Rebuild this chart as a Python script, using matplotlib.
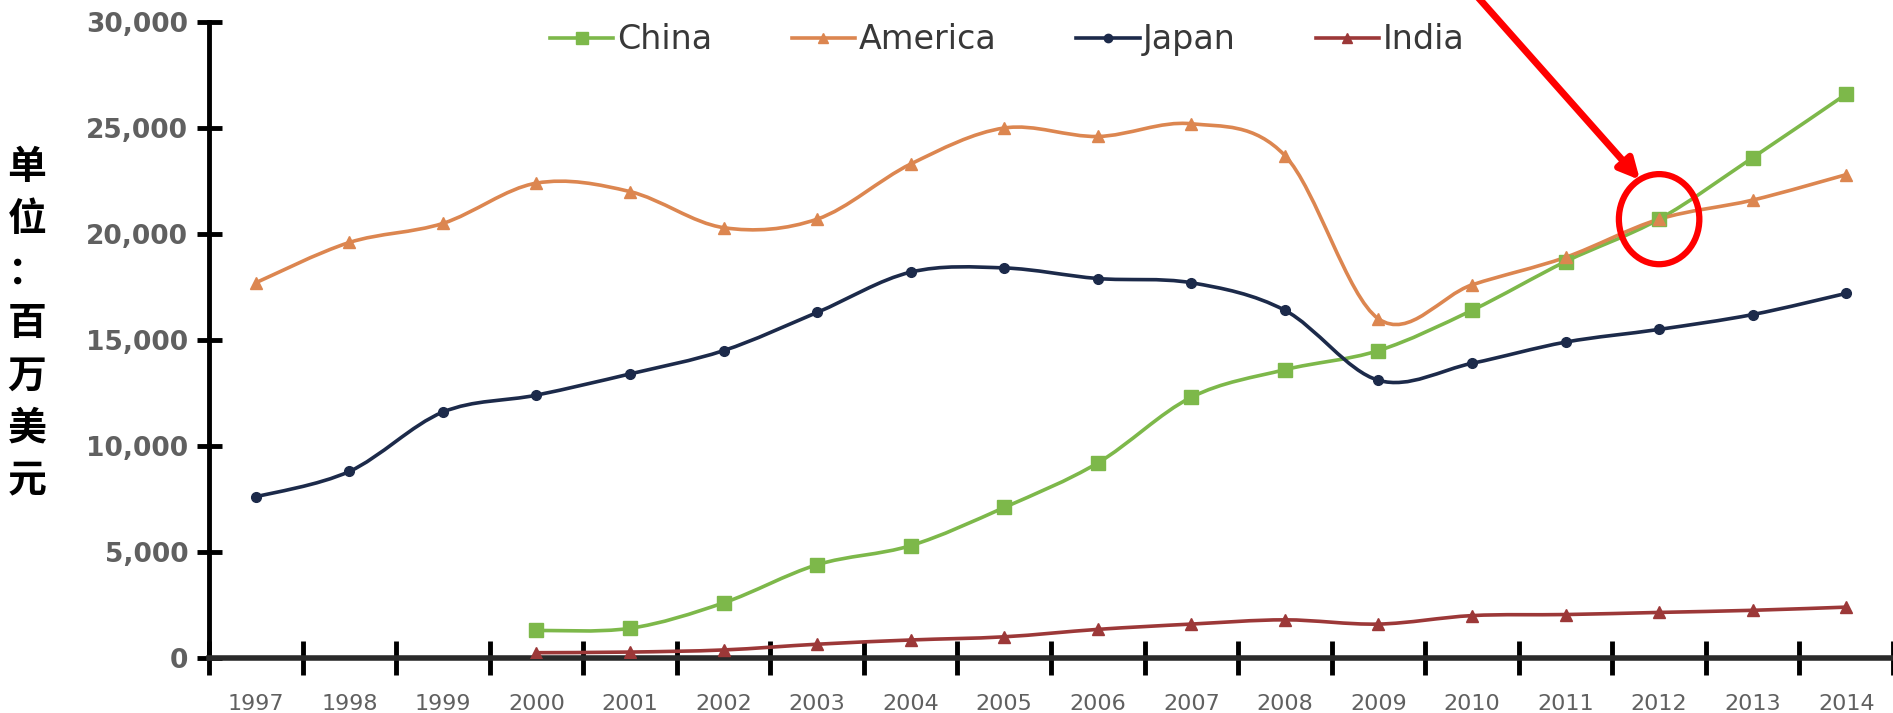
import matplotlib
matplotlib.use("Agg")
import numpy as np
import matplotlib.pyplot as plt
from matplotlib.path import Path
from matplotlib.patches import PathPatch, Ellipse
from matplotlib.lines import Line2D

# data (million USD)
years = [str(y) for y in range(1997, 2015)]
china_years = [str(y) for y in range(2000, 2015)]
china = [1300, 1400, 2600, 4400, 5300, 7100, 9200, 12300, 13600, 14500,
         16400, 18700, 20700, 23600, 26600]
america = [17700, 19600, 20500, 22400, 22000, 20300, 20700, 23300, 25000,
           24600, 25200, 23700, 16000, 17600, 18900, 20700, 21600, 22800]
japan = [7600, 8800, 11600, 12400, 13400, 14500, 16300, 18200, 18400,
         17900, 17700, 16400, 13100, 13900, 14900, 15500, 16200, 17200]
india_years = china_years
india = [250, 280, 380, 650, 850, 1000, 1350, 1600, 1800, 1600,
         2000, 2050, 2150, 2250, 2400]
ylabel_chars = ["单", "位", "：", "百", "万", "美", "元"]
yticks = [0, 5000, 10000, 15000, 20000, 25000, 30000]
highlight_year = "2012"


def smooth_path(x, y):
    # Catmull-Rom through the points, turned into cubic Bezier segments
    p = np.column_stack([x, y]).astype(float)
    n = len(p)
    verts = [p[0]]
    codes = [Path.MOVETO]
    for i in range(n - 1):
        p0 = p[i - 1] if i > 0 else p[i]
        p1, p2 = p[i], p[i + 1]
        p3 = p[i + 2] if i + 2 < n else p[i + 1]
        c1 = p1 + (p2 - p0) / 6.0
        c2 = p2 - (p3 - p1) / 6.0
        verts += [c1, c2, p2]
        codes += [Path.CURVE4] * 3
    return Path(verts, codes)


def draw_series(ax, cats, vals, color, marker, ms):
    x = [years.index(c) for c in cats]
    ax.add_patch(PathPatch(smooth_path(x, vals), facecolor="none",
                           edgecolor=color, lw=2.6, zorder=3))
    ax.plot(x, vals, linestyle="none", marker=marker, ms=ms, color=color,
            zorder=4)


fig = plt.figure(figsize=(18.93, 7.13), dpi=100)
ax = fig.add_axes([209 / 1893, 55 / 713, 1684 / 1893, 636 / 713])

series = [
    ("China", china_years, china, "#7db84a", "s", 10),
    ("America", years, america, "#dc8650", "^", 8),
    ("Japan", years, japan, "#1c2a4a", "o", 7),
    ("India", india_years, india, "#9c3838", "^", 8),
]
for name, cats, vals, col, mk, ms in series:
    draw_series(ax, cats, vals, col, mk, ms)

ax.set_xlim(-0.5, len(years) - 0.5)
ax.set_ylim(0, 30000)
ax.set_yticks(yticks)
ax.set_yticklabels([f"{v:,}" for v in yticks])
ax.set_xticks(range(len(years)))
ax.set_xticklabels(years)
ax.set_xticks(np.arange(-0.5, len(years)), minor=True)

for s in ["top", "right"]:
    ax.spines[s].set_visible(False)
ax.spines["left"].set_linewidth(3.5)
ax.spines["left"].set_color("black")
ax.spines["bottom"].set_linewidth(4)
ax.spines["bottom"].set_color("#2a2a2a")

ax.tick_params(axis="y", direction="inout", length=18, width=3.5,
               color="black", pad=6, labelsize=19, labelcolor="#606060")
ax.tick_params(axis="x", which="major", length=0, pad=26, labelsize=16,
               labelcolor="#606060")
ax.tick_params(axis="x", which="minor", direction="inout", length=24,
               width=3.5, color="black")
for lab in ax.get_yticklabels():
    lab.set_fontweight("bold")

# circled crossing point and arrow
hx = years.index(highlight_year)
hy = china[china_years.index(highlight_year)]
ax.add_patch(Ellipse((hx, hy), width=0.86, height=4250, fill=False,
                     edgecolor="red", lw=4.5, zorder=6, clip_on=False))
ax.annotate("", xy=(1640, 533), xycoords="figure pixels",
            xytext=(1452, 745), textcoords="figure pixels",
            arrowprops=dict(arrowstyle="-|>,head_length=1.2,head_width=0.6",
                            color="red", lw=5, shrinkA=0, shrinkB=0),
            annotation_clip=False, zorder=7)

# legend across the top
handles = [Line2D([0], [0], color=col, lw=2.6, marker=mk, ms=ms - 1)
           for name, cats, vals, col, mk, ms in series]
fig.legend(handles, [s[0] for s in series], loc="center",
           bbox_to_anchor=(0.532, 0.944), ncol=4, frameon=False,
           fontsize=24, handlelength=1.9, handletextpad=0.1,
           columnspacing=2.4, labelcolor="#383838")

# vertical unit label
y0 = 713 - 168
for i, ch in enumerate(ylabel_chars):
    fig.text(27 / 1893, (y0 - i * 52) / 713, ch, ha="center", va="center",
             fontsize=28, fontweight="bold",
             family=["Noto Sans CJK SC", "DejaVu Sans"])

fig.savefig("out.png", dpi=100, facecolor="white")
